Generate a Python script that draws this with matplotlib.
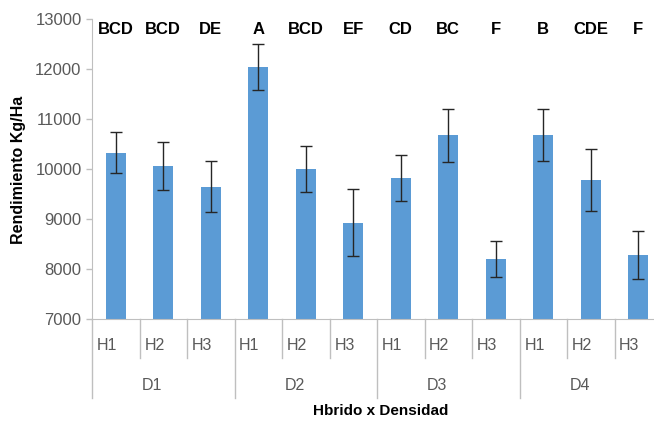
import matplotlib.pyplot as plt
import numpy as np

plt.rcParams['font.family'] = ['Liberation Sans Narrow', 'Liberation Sans', 'DejaVu Sans']

densidades = ["D1", "D2", "D3", "D4"]
hibridos = ["H1", "H2", "H3"]
rendimiento = [10330, 10070, 9650, 12050, 10010, 8930, 9820, 10680, 8200, 10690, 9790, 8280]
error = [410, 480, 505, 460, 460, 665, 460, 530, 367, 520, 620, 485]
letras = ["BCD", "BCD", "DE", "A", "BCD", "EF", "CD", "BC", "F", "B", "CDE", "F"]

BLUE = "#5B9BD5"
GRID = "#BFBFBF"
TXT = "#595959"

fig = plt.figure(figsize=(6.54, 4.26), dpi=100)
ax = fig.add_axes([92 / 654, 107 / 426, 570 / 654, 300 / 426])

x = np.arange(len(rendimiento))
ax.bar(x, rendimiento, width=0.42, color=BLUE, zorder=2)
ax.errorbar(x, rendimiento, yerr=error, fmt="none", ecolor="#262626",
            elinewidth=1.0, capsize=4, capthick=1.0, zorder=3)

ax.set_xlim(-0.5, len(x) - 0.5)
ax.set_ylim(7000, 13000)
ax.set_yticks(np.arange(7000, 13001, 1000))
ax.tick_params(axis="y", labelsize=12, colors=GRID, labelcolor=TXT, length=4, width=1)
ax.set_xticks([])

for s in ["top", "right"]:
    ax.spines[s].set_visible(False)
ax.spines["left"].set_color(GRID)
ax.spines["bottom"].set_color(GRID)

# significance letters above each bar
for xi, lt in zip(x, letras):
    ax.text(xi, 12780, lt, ha="center", va="center", fontsize=12, fontweight="bold", color="black")

# two-level category axis: hybrid labels and density groups
tr = ax.get_xaxis_transform()
for i in range(len(x)):
    ax.text(i - 0.4, -0.09, hibridos[i % 3], transform=tr, ha="left", va="center",
            fontsize=11.5, color=TXT, clip_on=False)
    depth = -0.263 if i % 3 == 0 else -0.13
    ax.plot([i - 0.5, i - 0.5], [0, depth], transform=tr, color=GRID, lw=1, clip_on=False)
for g, d in enumerate(densidades):
    ax.text(g * 3 + 1 - 0.23, -0.223, d, transform=tr, ha="center", va="center",
            fontsize=11.5, color=TXT, clip_on=False)

ax.text(0.507, -0.307, "Hbrido x Densidad", transform=ax.transAxes, ha="center", va="center",
        fontsize=11, fontweight="bold", color="black")
ax.set_ylabel("Rendimiento Kg/Ha", fontsize=11.5, fontweight="bold", color="black")
ax.yaxis.set_label_coords(-0.116, 0.497)

fig.savefig("out.png", dpi=100)
